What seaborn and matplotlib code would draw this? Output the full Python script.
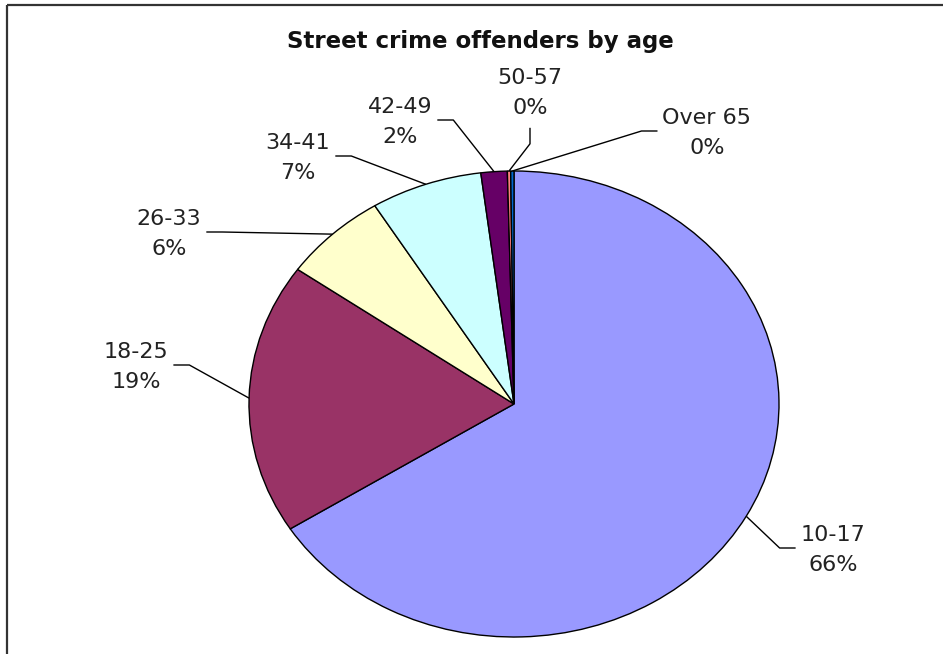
import numpy as np
import matplotlib
matplotlib.use("Agg")
import matplotlib.pyplot as plt
from matplotlib.patches import Rectangle
import seaborn as sns

# Data
age_groups = ["10-17", "18-25", "26-33", "34-41", "42-49", "50-57", "Over 65"]
share_pct = [66.0, 18.8, 6.4, 6.8, 1.6, 0.2, 0.2]
slice_colors = ["#9999FF", "#993366", "#FFFFCC", "#CCFFFF", "#660066", "#FF8080", "#0066CC"]
title_text = "Street crime offenders by age"

# Layout (pixels, origin top-left)
W, H = 943, 654
CX, CY, RX, RY = 514, 404, 265, 233
label_centres = [(833, 550), (136, 367), (169, 234), (298, 158),
                 (400, 122), (530, 93), (707, 133)]
label_side = ["left", "right", "right", "right", "right", "bottom", "left"]
GAP, ELBOW = 5, 16

sns.set_theme(style="white")
palette = sns.color_palette(slice_colors)
plt.rcParams["font.family"] = ["DejaVu Sans"]

fig = plt.figure(figsize=(W / 100, H / 100), dpi=100)
fig.patch.set_facecolor("white")

# Pie drawn into an axes whose box is the (stretched) ellipse
ax = fig.add_axes([(CX - RX) / W, (H - CY - RY) / H, 2 * RX / W, 2 * RY / H])
wedges, _ = ax.pie(share_pct, colors=palette, startangle=90, counterclock=False,
                   wedgeprops=dict(edgecolor="black", linewidth=1.0))
for w in wedges:
    w.set_clip_on(False)
ax.set_aspect("auto")
ax.set_xlim(-1, 1)
ax.set_ylim(-1, 1)
ax.axis("off")

# Overlay in pixel coordinates for labels and leader lines
over = fig.add_axes([0, 0, 1, 1], zorder=3)
over.set_xlim(0, W)
over.set_ylim(H, 0)
over.axis("off")
over.patch.set_alpha(0)

# Chart border
over.add_patch(Rectangle((7, 5), W + 20, H + 20, fill=False,
                         edgecolor="#333333", linewidth=1.6, clip_on=False))

over.text(480, 48, title_text, ha="center", va="baseline",
          fontsize=16.5, fontweight="bold", color="#111111")

renderer = fig.canvas.get_renderer()
inv = over.transData.inverted()

cum = np.cumsum([0] + share_pct)
total = cum[-1]
for i, grp in enumerate(age_groups):
    mid = (cum[i] + cum[i + 1]) / 2 / total * 2 * np.pi
    ex = CX + RX * np.sin(mid)
    ey = CY - RY * np.cos(mid)

    lx, ly = label_centres[i]
    t = over.text(lx, ly, f"{grp}\n{share_pct[i]:.0f}%", ha="center", va="center",
                  fontsize=16, color="#222222", linespacing=1.6)
    bb = t.get_window_extent(renderer)
    (x0, y1), (x1, y0) = inv.transform([(bb.x0, bb.y0), (bb.x1, bb.y1)])

    side = label_side[i]
    ay_ = ly - 2
    if side == "left":
        ax_ = x0 - GAP
        bx_, by_ = ax_ - ELBOW, ay_
    elif side == "right":
        ax_ = x1 + GAP
        bx_, by_ = ax_ + ELBOW, ay_
    else:
        ax_, ay_ = lx, y1 + GAP + 5
        bx_, by_ = ax_, ay_ + ELBOW
    over.plot([ax_, bx_, ex], [ay_, by_, ey], color="black", linewidth=1.0,
              solid_capstyle="butt", clip_on=False)

fig.savefig("out.png", dpi=100, facecolor="white")
